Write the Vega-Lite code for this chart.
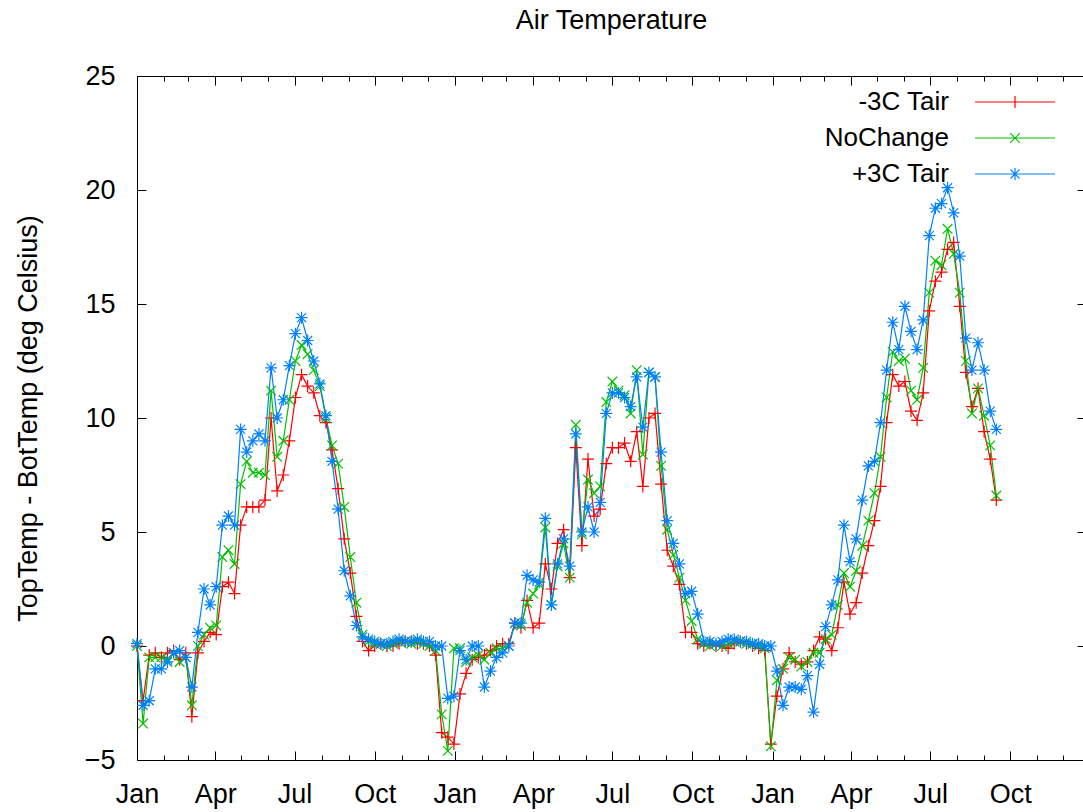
{
  "$schema": "https://vega.github.io/schema/vega-lite/v6.json",
  "width": 949,
  "height": 684,
  "autosize": {"type": "none"},
  "padding": {"left": 137, "top": 76, "right": -3, "bottom": 52},
  "background": "white",
  "title": {"text": "Air Temperature", "fontSize": 27, "fontWeight": "normal", "font": "Liberation Sans", "color": "black", "anchor": "middle", "frame": "group", "dx": 0, "offset": 0, "baseline": "bottom"},
  "config": {"view": {"stroke": null}, "font": "Liberation Sans", "axis": {"domainColor": "black", "domainWidth": 1, "tickColor": "black", "tickWidth": 1, "grid": false, "labelColor": "black", "labelFont": "Liberation Sans", "titleFont": "Liberation Sans"}},
  "data": {"values": [
    {"date": "2001-01-01", "-3C Tair": 0.0, "NoChange": 0.0, "+3C Tair": 0.1},
    {"date": "2001-01-08", "-3C Tair": -2.4, "NoChange": -3.4, "+3C Tair": -2.6},
    {"date": "2001-01-15", "-3C Tair": -0.4, "NoChange": -0.5, "+3C Tair": -2.4},
    {"date": "2001-01-22", "-3C Tair": -0.3, "NoChange": -0.5, "+3C Tair": -1.0},
    {"date": "2001-01-29", "-3C Tair": -0.5, "NoChange": -0.5, "+3C Tair": -1.0},
    {"date": "2001-02-05", "-3C Tair": -0.3, "NoChange": -0.6, "+3C Tair": -0.7},
    {"date": "2001-02-12", "-3C Tair": -0.2, "NoChange": -0.3, "+3C Tair": -0.3},
    {"date": "2001-02-19", "-3C Tair": -0.6, "NoChange": -0.7, "+3C Tair": -0.2},
    {"date": "2001-02-26", "-3C Tair": -0.3, "NoChange": -0.5, "+3C Tair": -0.5},
    {"date": "2001-03-05", "-3C Tair": -3.1, "NoChange": -2.6, "+3C Tair": -1.8},
    {"date": "2001-03-12", "-3C Tair": -0.3, "NoChange": 0.0, "+3C Tair": 0.6},
    {"date": "2001-03-19", "-3C Tair": 0.2, "NoChange": 0.5, "+3C Tair": 2.5},
    {"date": "2001-03-26", "-3C Tair": 0.6, "NoChange": 0.8, "+3C Tair": 1.8},
    {"date": "2001-04-02", "-3C Tair": 0.5, "NoChange": 0.9, "+3C Tair": 2.6},
    {"date": "2001-04-09", "-3C Tair": 2.6, "NoChange": 3.9, "+3C Tair": 5.3},
    {"date": "2001-04-16", "-3C Tair": 2.8, "NoChange": 4.2, "+3C Tair": 5.7},
    {"date": "2001-04-23", "-3C Tair": 2.3, "NoChange": 3.6, "+3C Tair": 5.3},
    {"date": "2001-04-30", "-3C Tair": 5.3, "NoChange": 7.1, "+3C Tair": 9.5},
    {"date": "2001-05-07", "-3C Tair": 6.1, "NoChange": 8.1, "+3C Tair": 8.5},
    {"date": "2001-05-14", "-3C Tair": 6.1, "NoChange": 7.6, "+3C Tair": 9.0},
    {"date": "2001-05-21", "-3C Tair": 6.1, "NoChange": 7.6, "+3C Tair": 9.3},
    {"date": "2001-05-28", "-3C Tair": 6.4, "NoChange": 7.5, "+3C Tair": 9.0},
    {"date": "2001-06-04", "-3C Tair": 10.0, "NoChange": 11.2, "+3C Tair": 12.2},
    {"date": "2001-06-11", "-3C Tair": 6.8, "NoChange": 8.3, "+3C Tair": 10.0},
    {"date": "2001-06-18", "-3C Tair": 7.5, "NoChange": 9.0, "+3C Tair": 10.8},
    {"date": "2001-06-25", "-3C Tair": 9.0, "NoChange": 10.8, "+3C Tair": 12.3},
    {"date": "2001-07-02", "-3C Tair": 10.9, "NoChange": 12.5, "+3C Tair": 13.7},
    {"date": "2001-07-09", "-3C Tair": 11.9, "NoChange": 13.2, "+3C Tair": 14.4},
    {"date": "2001-07-16", "-3C Tair": 11.4, "NoChange": 12.8, "+3C Tair": 13.4},
    {"date": "2001-07-23", "-3C Tair": 11.1, "NoChange": 12.1, "+3C Tair": 12.5},
    {"date": "2001-07-30", "-3C Tair": 10.1, "NoChange": 11.4, "+3C Tair": 11.5},
    {"date": "2001-08-06", "-3C Tair": 9.8, "NoChange": 10.0, "+3C Tair": 10.1},
    {"date": "2001-08-13", "-3C Tair": 8.6, "NoChange": 8.8, "+3C Tair": 8.1},
    {"date": "2001-08-20", "-3C Tair": 6.9, "NoChange": 8.0, "+3C Tair": 6.0},
    {"date": "2001-08-27", "-3C Tair": 4.7, "NoChange": 6.1, "+3C Tair": 3.3},
    {"date": "2001-09-03", "-3C Tair": 3.2, "NoChange": 3.9, "+3C Tair": 2.2},
    {"date": "2001-09-10", "-3C Tair": 1.3, "NoChange": 1.9, "+3C Tair": 0.9},
    {"date": "2001-09-17", "-3C Tair": 0.2, "NoChange": 0.5, "+3C Tair": 0.4},
    {"date": "2001-09-24", "-3C Tair": -0.2, "NoChange": 0.2, "+3C Tair": 0.3},
    {"date": "2001-10-01", "-3C Tair": 0.0, "NoChange": 0.1, "+3C Tair": 0.2},
    {"date": "2001-10-08", "-3C Tair": 0.1, "NoChange": 0.1, "+3C Tair": 0.1},
    {"date": "2001-10-15", "-3C Tair": 0.0, "NoChange": 0.0, "+3C Tair": 0.1},
    {"date": "2001-10-22", "-3C Tair": 0.0, "NoChange": 0.1, "+3C Tair": 0.2},
    {"date": "2001-10-29", "-3C Tair": 0.1, "NoChange": 0.2, "+3C Tair": 0.3},
    {"date": "2001-11-05", "-3C Tair": 0.2, "NoChange": 0.2, "+3C Tair": 0.2},
    {"date": "2001-11-12", "-3C Tair": 0.2, "NoChange": 0.1, "+3C Tair": 0.2},
    {"date": "2001-11-19", "-3C Tair": 0.1, "NoChange": 0.2, "+3C Tair": 0.3},
    {"date": "2001-11-26", "-3C Tair": 0.1, "NoChange": 0.1, "+3C Tair": 0.2},
    {"date": "2001-12-03", "-3C Tair": 0.0, "NoChange": 0.0, "+3C Tair": 0.2},
    {"date": "2001-12-10", "-3C Tair": -0.4, "NoChange": -0.2, "+3C Tair": 0.0},
    {"date": "2001-12-17", "-3C Tair": -3.8, "NoChange": -3.0, "+3C Tair": 0.0},
    {"date": "2001-12-24", "-3C Tair": -4.0, "NoChange": -4.6, "+3C Tair": -2.3},
    {"date": "2001-12-31", "-3C Tair": -4.3, "NoChange": -0.1, "+3C Tair": -2.2},
    {"date": "2002-01-07", "-3C Tair": -2.1, "NoChange": -0.1, "+3C Tair": -0.2},
    {"date": "2002-01-14", "-3C Tair": -1.2, "NoChange": -0.7, "+3C Tair": -0.6},
    {"date": "2002-01-21", "-3C Tair": -0.6, "NoChange": -0.5, "+3C Tair": 0.0},
    {"date": "2002-01-28", "-3C Tair": -0.5, "NoChange": -0.4, "+3C Tair": 0.0},
    {"date": "2002-02-04", "-3C Tair": -0.4, "NoChange": -0.6, "+3C Tair": -1.8},
    {"date": "2002-02-11", "-3C Tair": -0.2, "NoChange": -0.3, "+3C Tair": -1.1},
    {"date": "2002-02-18", "-3C Tair": 0.0, "NoChange": -0.1, "+3C Tair": -0.5},
    {"date": "2002-02-25", "-3C Tair": 0.1, "NoChange": -0.1, "+3C Tair": -0.3},
    {"date": "2002-03-04", "-3C Tair": 0.1, "NoChange": 0.0, "+3C Tair": 0.0},
    {"date": "2002-03-11", "-3C Tair": 1.0, "NoChange": 1.0, "+3C Tair": 1.0},
    {"date": "2002-03-18", "-3C Tair": 0.8, "NoChange": 0.9, "+3C Tair": 1.0},
    {"date": "2002-03-25", "-3C Tair": 2.0, "NoChange": 1.9, "+3C Tair": 3.1},
    {"date": "2002-04-01", "-3C Tair": 0.8, "NoChange": 2.3, "+3C Tair": 2.9},
    {"date": "2002-04-08", "-3C Tair": 1.0, "NoChange": 2.7, "+3C Tair": 2.8},
    {"date": "2002-04-15", "-3C Tair": 3.6, "NoChange": 5.2, "+3C Tair": 5.6},
    {"date": "2002-04-22", "-3C Tair": 2.5, "NoChange": 1.8, "+3C Tair": 1.8},
    {"date": "2002-04-29", "-3C Tair": 4.5, "NoChange": 3.5, "+3C Tair": 3.6},
    {"date": "2002-05-06", "-3C Tair": 5.1, "NoChange": 4.5, "+3C Tair": 4.7},
    {"date": "2002-05-13", "-3C Tair": 3.0, "NoChange": 3.0, "+3C Tair": 3.5},
    {"date": "2002-05-20", "-3C Tair": 8.7, "NoChange": 9.7, "+3C Tair": 9.3},
    {"date": "2002-05-27", "-3C Tair": 4.4, "NoChange": 4.9, "+3C Tair": 5.0},
    {"date": "2002-06-03", "-3C Tair": 8.2, "NoChange": 7.3, "+3C Tair": 6.1},
    {"date": "2002-06-10", "-3C Tair": 5.7, "NoChange": 6.7, "+3C Tair": 5.0},
    {"date": "2002-06-17", "-3C Tair": 6.0, "NoChange": 7.0, "+3C Tair": 6.3},
    {"date": "2002-06-24", "-3C Tair": 8.0, "NoChange": 10.7, "+3C Tair": 10.2},
    {"date": "2002-07-01", "-3C Tair": 8.7, "NoChange": 11.6, "+3C Tair": 11.1},
    {"date": "2002-07-08", "-3C Tair": 8.7, "NoChange": 11.2, "+3C Tair": 11.1},
    {"date": "2002-07-15", "-3C Tair": 8.9, "NoChange": 11.0, "+3C Tair": 10.9},
    {"date": "2002-07-22", "-3C Tair": 8.1, "NoChange": 10.2, "+3C Tair": 10.5},
    {"date": "2002-07-29", "-3C Tair": 9.4, "NoChange": 12.1, "+3C Tair": 11.8},
    {"date": "2002-08-05", "-3C Tair": 7.0, "NoChange": 8.4, "+3C Tair": 9.6},
    {"date": "2002-08-12", "-3C Tair": 10.0, "NoChange": 12.0, "+3C Tair": 12.0},
    {"date": "2002-08-19", "-3C Tair": 10.2, "NoChange": 11.8, "+3C Tair": 11.8},
    {"date": "2002-08-26", "-3C Tair": 7.1, "NoChange": 7.9, "+3C Tair": 8.5},
    {"date": "2002-09-02", "-3C Tair": 4.2, "NoChange": 5.1, "+3C Tair": 5.5},
    {"date": "2002-09-09", "-3C Tair": 3.5, "NoChange": 4.0, "+3C Tair": 4.5},
    {"date": "2002-09-16", "-3C Tair": 2.7, "NoChange": 3.0, "+3C Tair": 3.6},
    {"date": "2002-09-23", "-3C Tair": 0.6, "NoChange": 2.0, "+3C Tair": 2.3},
    {"date": "2002-09-30", "-3C Tair": 0.6, "NoChange": 1.1, "+3C Tair": 2.4},
    {"date": "2002-10-07", "-3C Tair": 0.1, "NoChange": 0.3, "+3C Tair": 1.4},
    {"date": "2002-10-14", "-3C Tair": 0.0, "NoChange": 0.1, "+3C Tair": 0.2},
    {"date": "2002-10-21", "-3C Tair": 0.1, "NoChange": 0.0, "+3C Tair": 0.2},
    {"date": "2002-10-28", "-3C Tair": 0.0, "NoChange": 0.1, "+3C Tair": 0.1},
    {"date": "2002-11-04", "-3C Tair": 0.0, "NoChange": 0.0, "+3C Tair": 0.2},
    {"date": "2002-11-11", "-3C Tair": -0.1, "NoChange": 0.1, "+3C Tair": 0.3},
    {"date": "2002-11-18", "-3C Tair": 0.1, "NoChange": 0.2, "+3C Tair": 0.3},
    {"date": "2002-11-25", "-3C Tair": 0.2, "NoChange": 0.2, "+3C Tair": 0.2},
    {"date": "2002-12-02", "-3C Tair": 0.1, "NoChange": 0.1, "+3C Tair": 0.2},
    {"date": "2002-12-09", "-3C Tair": 0.0, "NoChange": 0.1, "+3C Tair": 0.1},
    {"date": "2002-12-16", "-3C Tair": -0.1, "NoChange": 0.0, "+3C Tair": 0.1},
    {"date": "2002-12-23", "-3C Tair": -0.2, "NoChange": -0.1, "+3C Tair": 0.0},
    {"date": "2002-12-30", "-3C Tair": -4.3, "NoChange": -4.4, "+3C Tair": 0.0},
    {"date": "2003-01-06", "-3C Tair": -2.2, "NoChange": -1.5, "+3C Tair": -1.1},
    {"date": "2003-01-13", "-3C Tair": -1.0, "NoChange": -1.0, "+3C Tair": -2.6},
    {"date": "2003-01-20", "-3C Tair": -0.3, "NoChange": -0.5, "+3C Tair": -1.8},
    {"date": "2003-01-27", "-3C Tair": -0.7, "NoChange": -0.6, "+3C Tair": -1.8},
    {"date": "2003-02-03", "-3C Tair": -0.8, "NoChange": -0.9, "+3C Tair": -1.9},
    {"date": "2003-02-10", "-3C Tair": -0.7, "NoChange": -0.7, "+3C Tair": -1.3},
    {"date": "2003-02-17", "-3C Tair": -0.2, "NoChange": -0.3, "+3C Tair": -2.9},
    {"date": "2003-02-24", "-3C Tair": 0.4, "NoChange": -0.3, "+3C Tair": -0.8},
    {"date": "2003-03-03", "-3C Tair": 0.3, "NoChange": 0.3, "+3C Tair": 0.85},
    {"date": "2003-03-10", "-3C Tair": -0.2, "NoChange": 0.5, "+3C Tair": 1.8},
    {"date": "2003-03-17", "-3C Tair": 0.8, "NoChange": 1.8, "+3C Tair": 2.9},
    {"date": "2003-03-24", "-3C Tair": 2.8, "NoChange": 3.2, "+3C Tair": 5.3},
    {"date": "2003-03-31", "-3C Tair": 1.4, "NoChange": 2.6, "+3C Tair": 3.7},
    {"date": "2003-04-07", "-3C Tair": 1.9, "NoChange": 3.3, "+3C Tair": 4.7},
    {"date": "2003-04-14", "-3C Tair": 3.2, "NoChange": 4.4, "+3C Tair": 6.4},
    {"date": "2003-04-21", "-3C Tair": 4.4, "NoChange": 5.5, "+3C Tair": 7.9},
    {"date": "2003-04-28", "-3C Tair": 5.5, "NoChange": 6.7, "+3C Tair": 8.1},
    {"date": "2003-05-05", "-3C Tair": 7.0, "NoChange": 8.3, "+3C Tair": 9.8},
    {"date": "2003-05-12", "-3C Tair": 9.8, "NoChange": 10.9, "+3C Tair": 12.1},
    {"date": "2003-05-19", "-3C Tair": 11.9, "NoChange": 12.9, "+3C Tair": 14.2},
    {"date": "2003-05-26", "-3C Tair": 11.4, "NoChange": 12.5, "+3C Tair": 13.0},
    {"date": "2003-06-02", "-3C Tair": 11.6, "NoChange": 12.6, "+3C Tair": 14.9},
    {"date": "2003-06-09", "-3C Tair": 10.3, "NoChange": 11.2, "+3C Tair": 13.8},
    {"date": "2003-06-16", "-3C Tair": 9.9, "NoChange": 10.8, "+3C Tair": 13.0},
    {"date": "2003-06-23", "-3C Tair": 11.1, "NoChange": 12.2, "+3C Tair": 14.3},
    {"date": "2003-06-30", "-3C Tair": 14.7, "NoChange": 15.5, "+3C Tair": 18.0},
    {"date": "2003-07-07", "-3C Tair": 16.0, "NoChange": 16.9, "+3C Tair": 19.2},
    {"date": "2003-07-14", "-3C Tair": 16.4, "NoChange": 16.7, "+3C Tair": 19.4},
    {"date": "2003-07-21", "-3C Tair": 17.4, "NoChange": 18.3, "+3C Tair": 20.1},
    {"date": "2003-07-28", "-3C Tair": 17.7, "NoChange": 17.2, "+3C Tair": 19.0},
    {"date": "2003-08-04", "-3C Tair": 14.9, "NoChange": 15.5, "+3C Tair": 17.1},
    {"date": "2003-08-11", "-3C Tair": 12.0, "NoChange": 12.5, "+3C Tair": 13.5},
    {"date": "2003-08-18", "-3C Tair": 10.5, "NoChange": 10.2, "+3C Tair": 12.1},
    {"date": "2003-08-25", "-3C Tair": 11.3, "NoChange": 11.3, "+3C Tair": 13.3},
    {"date": "2003-09-01", "-3C Tair": 9.4, "NoChange": 10.1, "+3C Tair": 12.1},
    {"date": "2003-09-08", "-3C Tair": 8.2, "NoChange": 8.8, "+3C Tair": 10.3},
    {"date": "2003-09-15", "-3C Tair": 6.4, "NoChange": 6.6, "+3C Tair": 9.5}
  ]},
  "transform": [{"fold": ["-3C Tair", "NoChange", "+3C Tair"], "as": ["series", "v"]}],
  "encoding": {
    "x": {"field": "date", "type": "temporal",
      "scale": {"type": "utc", "domain": [{"year": 2001, "month": 1, "date": 1, "utc": true}, {"year": 2003, "month": 12, "date": 27, "utc": true}], "nice": false}},
    "y": {"field": "v", "type": "quantitative", "scale": {"domain": [-5, 25], "nice": false, "zero": false}},
    "color": {"field": "series", "type": "nominal",
      "scale": {"domain": ["-3C Tair", "NoChange", "+3C Tair"], "range": ["#ff0000", "#00c000", "#0080ff"]},
      "legend": {"title": null, "orient": "none", "legendX": 865, "legendY": 13, "labelFontSize": 26, "labelFont": "Liberation Sans", "labelColor": "black", "labelAlign": "right", "labelOffset": -79, "labelLimit": 400, "symbolSize": 144, "symbolStrokeWidth": 1.2, "rowPadding": 10}}
  },
  "layer": [
    {
      "mark": {"type": "line", "strokeWidth": 1.2},
      "encoding": {
        "x": {"field": "date", "type": "temporal",
          "axis": {"orient": "bottom", "title": null, "tickCount": {"interval": "month", "step": 1},
            "labelExpr": "utcmonth(datum.value) % 3 == 0 ? utcFormat(datum.value, '%b') : ''",
            "labelOverlap": false, "labelFlush": false, "labelBound": false, "labelFontSize": 27, "labelPadding": 30,
            "tickSize": -9,
            "tickDash": {"condition": {"test": "utcmonth(datum.value) % 3 == 0", "value": [10, 1]}, "value": [5, 20]}}},
        "y": {"field": "v", "type": "quantitative",
          "axis": {"orient": "left", "values": [-5, 0, 5, 10, 15, 20, 25], "labelFontSize": 27, "labelPadding": 31, "labelBaseline": "middle",
            "tickSize": -9,
            "title": "TopTemp - BotTemp (deg Celsius)", "titleFontSize": 27, "titleFontWeight": "normal", "titleColor": "black", "titlePadding": 42}}
      }
    },
    {
      "transform": [{"filter": "datum.series === '-3C Tair'"}],
      "mark": {"type": "point", "filled": false, "strokeWidth": 1.2, "opacity": 1, "size": 144, "shape": "M-1,0L1,0M0,-1L0,1"},
      "encoding": {
        "x": {"field": "date", "type": "temporal",
          "axis": {"orient": "top", "title": null, "labels": false, "tickCount": {"interval": "month", "step": 1}, "tickSize": -9,
            "tickDash": {"condition": {"test": "utcmonth(datum.value) % 3 == 0", "value": [10, 1]}, "value": [5, 20]}}},
        "y": {"field": "v", "type": "quantitative",
          "axis": {"orient": "right", "title": null, "labels": false, "values": [-5, 0, 5, 10, 15, 20, 25], "tickSize": -9}}
      }
    },
    {
      "transform": [{"filter": "datum.series === 'NoChange'"}],
      "mark": {"type": "point", "filled": false, "strokeWidth": 1.2, "opacity": 1, "size": 144, "shape": "M-0.8,-0.8L0.8,0.8M-0.8,0.8L0.8,-0.8"},
      "encoding": {
        "x": {"field": "date", "type": "temporal", "axis": null},
        "y": {"field": "v", "type": "quantitative", "axis": null}
      }
    },
    {
      "transform": [{"filter": "datum.series === '+3C Tair'"}],
      "mark": {"type": "point", "filled": false, "strokeWidth": 1.2, "opacity": 1, "size": 144, "shape": "M-1,0L1,0M0,-1L0,1M-0.75,-0.75L0.75,0.75M-0.75,0.75L0.75,-0.75"},
      "encoding": {
        "x": {"field": "date", "type": "temporal", "axis": null},
        "y": {"field": "v", "type": "quantitative", "axis": null}
      }
    },
    {
      "transform": [{"filter": "false"}],
      "mark": {"type": "point", "filled": false, "strokeWidth": 1.2, "opacity": 1, "size": 144},
      "encoding": {
        "x": {"field": "date", "type": "temporal", "axis": null},
        "y": {"field": "v", "type": "quantitative", "axis": null},
        "shape": {"field": "series", "type": "nominal",
          "scale": {"domain": ["-3C Tair", "NoChange", "+3C Tair"], "range": ["M-6.67,0L6.67,0M0,-1L0,1", "M-6.67,0L6.67,0M-0.8,-0.8L0.8,0.8M-0.8,0.8L0.8,-0.8", "M-6.67,0L6.67,0M0,-1L0,1M-0.75,-0.75L0.75,0.75M-0.75,0.75L0.75,-0.75"]},
          "legend": {"title": null, "orient": "none", "legendX": 865, "legendY": 13, "labelFontSize": 26, "labelFont": "Liberation Sans", "labelColor": "black", "labelAlign": "right", "labelOffset": -79, "labelLimit": 400, "symbolSize": 144, "symbolStrokeWidth": 1.2, "rowPadding": 10}}
      }
    }
  ],
  "resolve": {"axis": {"x": "independent", "y": "independent"}}
}
